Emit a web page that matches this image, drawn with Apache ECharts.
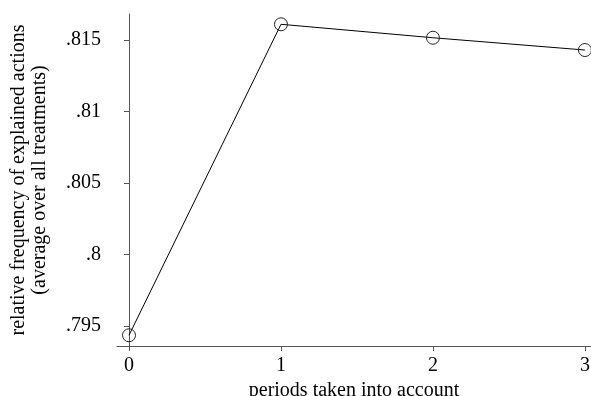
<!DOCTYPE html>
<html>
<head>
<meta charset="utf-8">
<script src="https://cdn.jsdelivr.net/npm/echarts@6/dist/echarts.min.js"></script>
<style>html,body{margin:0;padding:0;background:#fff}#c{width:591px;height:396px}</style>
</head>
<body>
<div id="c"></div>
<script>
const periods = [0, 1, 2, 3];
const freq = [0.79435, 0.8161, 0.81516, 0.8143];
const yTicks = [0.795, 0.8, 0.805, 0.81, 0.815];
const xTicks = [0, 1, 2, 3];

const chart = echarts.init(document.getElementById('c'), null, {renderer: 'canvas'});
const font = 'Liberation Serif';
chart.setOption({
  animation: false,
  grid: {left: 117, right: 0, top: 14, bottom: 50, containLabel: false, outerBoundsMode: 'none'},
  xAxis: {
    type: 'value', min: -0.079, max: 3.04,
    name: 'periods taken into account', nameLocation: 'middle', nameGap: 28,
    nameTextStyle: {fontFamily: font, fontSize: 20, color: '#000'},
    axisLine: {show: true, lineStyle: {color: '#555', width: 1}},
    axisTick: {show: true, length: 5, lineStyle: {color: '#555'},
      customValues: xTicks},
    axisLabel: {fontFamily: font, fontSize: 20, color: '#000', margin: 10,
      customValues: xTicks, formatter: v => String(v)},
    splitLine: {show: false}
  },
  yAxis: {
    type: 'value', min: 0.7936, max: 0.81682,
    name: 'relative frequency of explained actions\n(average over all treatments)',
    nameLocation: 'middle', nameGap: 67, nameRotate: 90,
    nameTextStyle: {fontFamily: font, fontSize: 20, color: '#000', lineHeight: 21},
    axisLine: {show: true, lineStyle: {color: '#555', width: 1}},
    axisTick: {show: true, length: 5, lineStyle: {color: '#555'}, customValues: yTicks},
    axisLabel: {fontFamily: font, fontSize: 20, color: '#000', margin: 16,
      customValues: yTicks, formatter: v => String(+v.toFixed(3)).replace(/^0/, '')},
    splitLine: {show: false}
  },
  series: [{
    type: 'line',
    data: periods.map((p, i) => [p, freq[i]]),
    symbol: 'circle', symbolSize: 13,
    lineStyle: {color: '#000', width: 1},
    itemStyle: {color: 'rgba(255,255,255,0)', borderColor: '#222', borderWidth: 1},
    clip: false
  }]
});
</script>
</body>
</html>
